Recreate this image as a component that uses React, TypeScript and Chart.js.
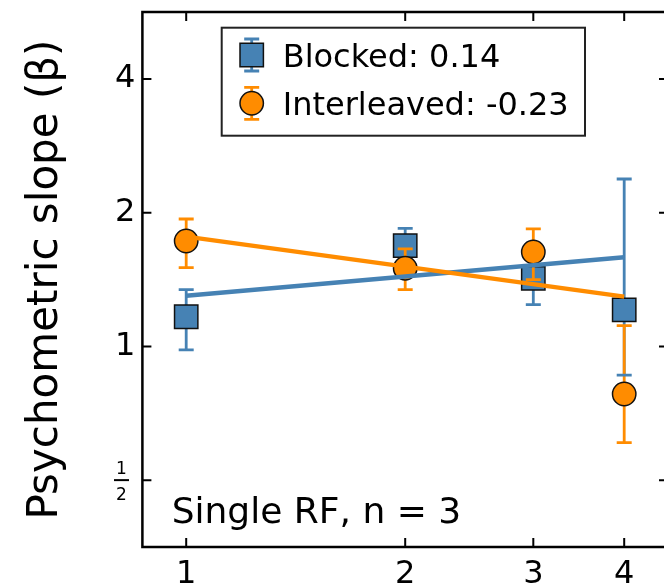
import React, { useEffect, useRef } from 'react';
import { Chart, registerables } from 'chart.js';
Chart.register(...registerables);

// ---- data ----
const xValues = [1, 2, 3, 4];
const blockedMean = [1.166, 1.685, 1.423, 1.208];
const blockedLow = [0.982, 1.54, 1.241, 0.862];
const blockedHigh = [1.342, 1.844, 1.631, 2.381];
const interMean = [1.727, 1.499, 1.631, 0.781];
const interLow = [1.504, 1.342, 1.413, 0.607];
const interHigh = [1.935, 1.657, 1.838, 1.113];
const fitX = [1, 4];
const blockedFit = [1.3, 1.587];
const interFit = [1.766, 1.294];
const xTicks = [1, 2, 3, 4];
const yTicks = [0.5, 1, 2, 4];
const legendLabels = ['Blocked: 0.14', 'Interleaved: -0.23'];
const annotationText = 'Single RF, n = 3';
const yTitle = 'Psychometric slope (\u03B2)';

const FONT = "'DejaVu Sans', sans-serif";
const BLUE = '#4682B4';
const ORANGE = '#FF8C00';
const EDGE = '#111111';

function drawBars(chart: any, lows: number[], highs: number[], color: string, part: 'lines' | 'caps') {
  const { ctx, chartArea, scales } = chart;
  const x = scales.x, y = scales.y;
  ctx.save();
  ctx.beginPath();
  ctx.rect(chartArea.left, chartArea.top, chartArea.right - chartArea.left, chartArea.bottom - chartArea.top);
  ctx.clip();
  ctx.strokeStyle = color;
  ctx.lineWidth = 2.8;
  xValues.forEach((xv, i) => {
    const px = x.getPixelForValue(xv);
    const pl = y.getPixelForValue(lows[i]);
    const ph = y.getPixelForValue(highs[i]);
    ctx.beginPath();
    if (part === 'lines') {
      ctx.moveTo(px, pl);
      ctx.lineTo(px, ph);
    } else {
      ctx.moveTo(px - 7.5, pl);
      ctx.lineTo(px + 7.5, pl);
      ctx.moveTo(px - 7.5, ph);
      ctx.lineTo(px + 7.5, ph);
    }
    ctx.stroke();
  });
  ctx.restore();
}

const zeroPad = (s: any) => {
  s.paddingLeft = 0;
  s.paddingRight = 0;
  s.paddingTop = 0;
  s.paddingBottom = 0;
};

const decorPlugin = {
  id: 'decor',
  beforeDatasetDraw(chart: any, args: any) {
    if (args.index === 0) {
      drawBars(chart, blockedLow, blockedHigh, BLUE, 'lines');
    } else if (args.index === 1) {
      drawBars(chart, interLow, interHigh, ORANGE, 'lines');
      drawBars(chart, blockedLow, blockedHigh, BLUE, 'caps');
      drawBars(chart, interLow, interHigh, ORANGE, 'caps');
    }
  },
  afterDraw(chart: any) {
    const { ctx, chartArea, scales } = chart;
    const x = scales.x, y = scales.y;
    const { left, right, top, bottom } = chartArea;
    ctx.save();
    // frame
    ctx.strokeStyle = '#000';
    ctx.lineWidth = 2.5;
    ctx.strokeRect(left, top, right - left, bottom - top);
    // inward ticks
    ctx.lineWidth = 2;
    const tl = 9;
    ctx.beginPath();
    yTicks.forEach((v) => {
      const py = y.getPixelForValue(v);
      ctx.moveTo(left, py); ctx.lineTo(left + tl, py);
      ctx.moveTo(right, py); ctx.lineTo(right - tl, py);
    });
    xTicks.forEach((v) => {
      const px = x.getPixelForValue(v);
      ctx.moveTo(px, bottom); ctx.lineTo(px, bottom - tl);
      ctx.moveTo(px, top); ctx.lineTo(px, top + tl);
    });
    ctx.stroke();

    // fraction label for 1/2
    const py = y.getPixelForValue(0.5);
    const fx = 121.5;
    ctx.fillStyle = '#000';
    ctx.font = `17px ${FONT}`;
    ctx.textAlign = 'center';
    ctx.textBaseline = 'alphabetic';
    ctx.fillText('1', fx, py - 6);
    ctx.fillText('2', fx, py + 20);
    ctx.lineWidth = 2;
    ctx.beginPath();
    ctx.moveTo(fx - 7.5, py);
    ctx.lineTo(fx + 7.5, py);
    ctx.stroke();

    // annotation
    ctx.textAlign = 'left';
    ctx.font = `36px ${FONT}`;
    ctx.fillText(annotationText, 171.7, 523.3);

    // legend
    const lx = 221.7, ly = 27.7, lw = 363.3, lh = 108;
    ctx.fillStyle = '#fff';
    ctx.fillRect(lx, ly, lw, lh);
    ctx.strokeStyle = '#222';
    ctx.lineWidth = 2;
    ctx.strokeRect(lx, ly, lw, lh);
    const mx = 251.7;
    const rows = [55, 103.3];
    const colors = [BLUE, ORANGE];
    rows.forEach((cy, i) => {
      ctx.strokeStyle = colors[i];
      ctx.lineWidth = 2.8;
      ctx.beginPath();
      ctx.moveTo(mx, cy - 16); ctx.lineTo(mx, cy + 16);
      ctx.moveTo(mx - 7.5, cy - 16); ctx.lineTo(mx + 7.5, cy - 16);
      ctx.moveTo(mx - 7.5, cy + 16); ctx.lineTo(mx + 7.5, cy + 16);
      ctx.stroke();
      ctx.fillStyle = colors[i];
      ctx.strokeStyle = EDGE;
      ctx.lineWidth = 1.5;
      ctx.beginPath();
      if (i === 0) {
        ctx.rect(mx - 11.7, cy - 11.7, 23.4, 23.4);
      } else {
        ctx.arc(mx, cy, 11.7, 0, Math.PI * 2);
      }
      ctx.fill();
      ctx.stroke();
      ctx.fillStyle = '#000';
      ctx.font = `32px ${FONT}`;
      ctx.textAlign = 'left';
      ctx.fillText(legendLabels[i], 282.7, cy + 11.7);
    });
    ctx.restore();
  },
};

export default function App() {
  const ref = useRef<HTMLCanvasElement>(null);
  useEffect(() => {
    if (!ref.current) return;
    const toPts = (xs: number[], ys: number[]) => xs.map((v, i) => ({ x: v, y: ys[i] }));
    const chart = new Chart(ref.current, {
      type: 'scatter',
      data: {
        datasets: [
          {
            label: legendLabels[0],
            data: toPts(xValues, blockedMean),
            pointStyle: 'rect',
            pointRadius: 16.5,
            backgroundColor: BLUE,
            borderColor: EDGE,
            borderWidth: 1.5,
            showLine: false,
            order: 4,
          },
          {
            label: legendLabels[1],
            data: toPts(xValues, interMean),
            pointStyle: 'circle',
            pointRadius: 11.7,
            backgroundColor: ORANGE,
            borderColor: EDGE,
            borderWidth: 1.5,
            showLine: false,
            order: 3,
          },
          {
            label: 'Blocked fit',
            data: toPts(fitX, blockedFit),
            showLine: true,
            pointRadius: 0,
            borderColor: BLUE,
            borderWidth: 4.5,
            order: 2,
          },
          {
            label: 'Interleaved fit',
            data: toPts(fitX, interFit),
            showLine: true,
            pointRadius: 0,
            borderColor: ORANGE,
            borderWidth: 4.5,
            order: 1,
          },
        ],
      },
      options: {
        responsive: false,
        animation: false,
        layout: { autoPadding: false, padding: { top: 12, right: 0, left: 0, bottom: 0 } },
        plugins: { legend: { display: false }, tooltip: { enabled: false } },
        scales: {
          x: {
            type: 'logarithmic',
            min: Math.pow(2, -0.2),
            max: Math.pow(2, 2.2),
            grid: { display: false, drawTicks: false },
            border: { display: false },
            afterBuildTicks: (s: any) => { s.ticks = xTicks.map((v) => ({ value: v })); },
            afterFit: (s: any) => { s.height = 38; zeroPad(s); },
            ticks: {
              autoSkip: false,
              maxRotation: 0,
              padding: 8,
              color: '#000',
              font: { family: FONT, size: 32 },
              callback: (v: any) => String(v),
            },
          },
          y: {
            type: 'logarithmic',
            min: Math.pow(2, -1.5),
            max: Math.pow(2, 2.5),
            grid: { display: false, drawTicks: false },
            border: { display: false },
            afterBuildTicks: (s: any) => { s.ticks = yTicks.map((v) => ({ value: v })); },
            afterFit: (s: any) => { s.width = 142.4; zeroPad(s); },
            ticks: {
              autoSkip: false,
              padding: 7,
              color: '#000',
              font: { family: FONT, size: 32 },
              callback: (v: any) => (v === 0.5 ? '' : String(v)),
            },
            title: {
              display: true,
              text: yTitle,
              color: '#000',
              font: { family: FONT, size: 42, weight: 'normal' },
              padding: { top: 21, bottom: 0 },
            },
          },
        },
      },
      plugins: [decorPlugin],
    } as any);
    return () => chart.destroy();
  }, []);
  return (
    <div style={{ position: 'fixed', left: 0, top: 0, width: 664, height: 585, overflow: 'hidden', background: '#fff' }}>
      <canvas ref={ref} width={668} height={585} style={{ display: 'block' }} />
    </div>
  );
}
